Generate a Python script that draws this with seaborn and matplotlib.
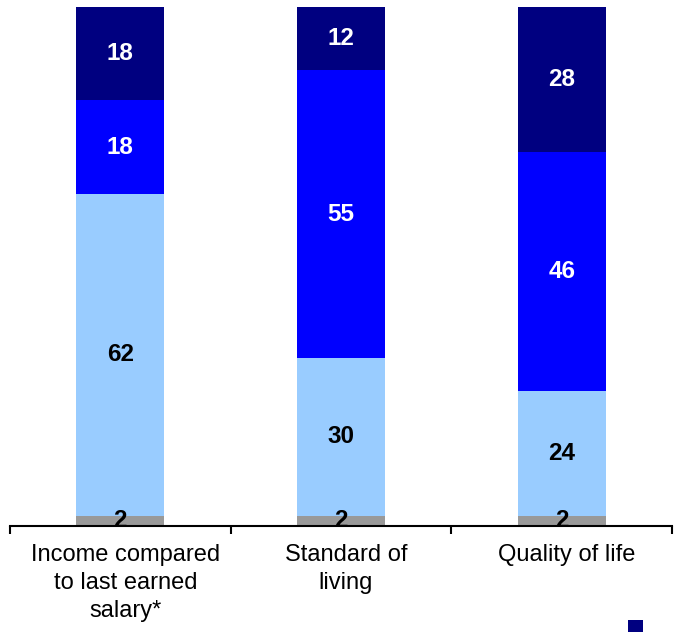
import numpy as np
import pandas as pd
import seaborn as sns
import matplotlib.pyplot as plt
import matplotlib.transforms as mtransforms

# ---------------- Data ---------------- #
categories = ["Income compared\nto last earned\nsalary*", "Standard of\nliving", "Quality of life"]
grey_vals = [2, 2, 2]
light_vals = [62, 30, 24]
blue_vals = [18, 55, 46]
navy_vals = [18, 12, 28]

layers = [
    ("grey", grey_vals, "#999999", "black"),
    ("light", light_vals, "#99CCFF", "black"),
    ("blue", blue_vals, "#0000FF", "white"),
    ("navy", navy_vals, "#000080", "white"),
]

df = pd.DataFrame({"cat": categories, "grey": grey_vals, "light": light_vals,
                   "blue": blue_vals, "navy": navy_vals})
# bars are drawn as 100% stacks
totals = df[["grey", "light", "blue", "navy"]].sum(axis=1)
for col in ["grey", "light", "blue", "navy"]:
    df[col + "_pct"] = df[col] / totals * 100

# ---------------- Plot ---------------- #
sns.set_style("white")
plt.rcParams["font.family"] = ["Liberation Sans", "DejaVu Sans"]

fig = plt.figure(figsize=(6.76, 6.33), dpi=100)
ax = fig.add_axes([10 / 676, 107 / 633, 662 / 676, 519 / 633])

bottom = np.zeros(len(df))
containers = {}
for name, vals, color, txt_color in layers:
    sns.barplot(data=df, x="cat", y=name + "_pct", color=color, width=0.4,
                bottom=bottom, saturation=1, linewidth=0, ax=ax)
    cont = ax.containers[-1]
    containers[name] = cont
    ax.bar_label(cont, labels=[str(v) for v in vals], label_type="center",
                 color=txt_color, fontsize=17.5, fontweight="bold")
    bottom = bottom + df[name + "_pct"].to_numpy()

ax.set_xlim(-0.5, 2.5)
ax.set_ylim(0, 100)
ax.set_xlabel("")
ax.set_ylabel("")
ax.set_yticks([])

for side in ["left", "right", "top"]:
    ax.spines[side].set_visible(False)
ax.spines["bottom"].set_color("black")
ax.spines["bottom"].set_linewidth(1.5)

ax.set_xticks(range(len(categories)))
ax.set_xticklabels(categories, fontsize=17, linespacing=1.34, color="black")
ax.set_xticks([-0.5, 0.5, 1.5, 2.5], minor=True)
ax.tick_params(axis="x", which="major", length=0, pad=13)
ax.tick_params(axis="x", which="minor", length=6, width=1.5, color="black",
               direction="out", bottom=True)

# category labels sit a little right of the bar centres
shift = mtransforms.ScaledTranslation(5 / 100, 0, fig.dpi_scale_trans)
for lbl in ax.get_xticklabels():
    lbl.set_transform(lbl.get_transform() + shift)

# legend remnant in the lower right corner
fig.legend(handles=[containers["navy"].patches[0]], labels=[" "],
           loc="lower right", bbox_to_anchor=(1.0, -0.027), frameon=False,
           handlelength=0.9, handleheight=0.7, fontsize=12)

fig.savefig("out.png", dpi=100)
